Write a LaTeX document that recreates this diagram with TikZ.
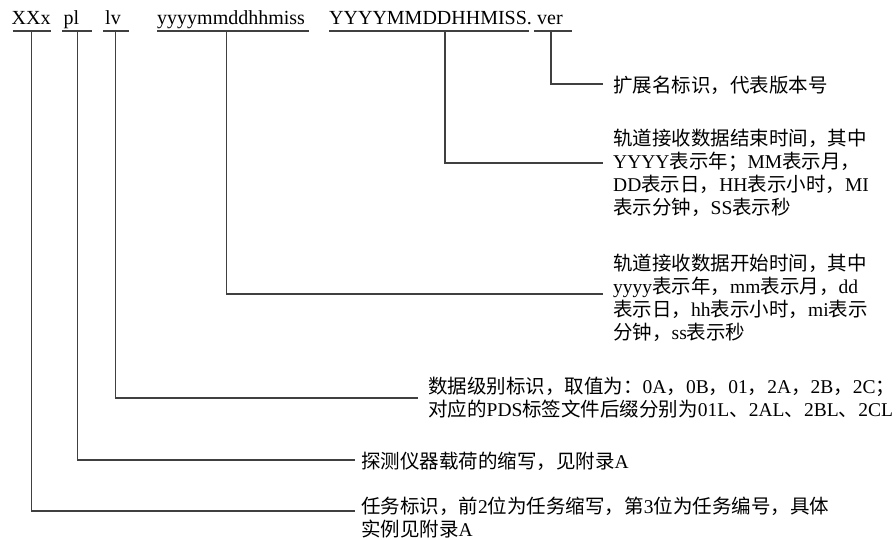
\documentclass[tikz,border=0pt]{standalone}
\usepackage{fontspec}
\setmainfont{Liberation Serif}
\newfontfamily\cjk{Noto Sans CJK SC}
\newcommand\zh[1]{{\cjk #1}}
\newcommand\blk[1]{\begin{tabular}[t]{@{}l@{}}#1\end{tabular}}
\begin{document}
\begin{tikzpicture}[x=1pt,y=-1pt,
  lbl/.style={anchor=base west, inner sep=0pt, font=\fontsize{20}{23}\selectfont},
  desc/.style={anchor=base west, inner sep=0pt, font=\fontsize{19.5}{22.5}\selectfont},
  ln/.style={line width=1.1pt, draw=black!75}]
\useasboundingbox (0,0) rectangle (896,539);

% top labels
\node[lbl] (txx) at (11.5,24.5) {XXx};
\node[lbl] (tpl) at (63.5,24.5) {pl};
\node[lbl] (tlv) at (105,24.5) {lv};
\node[lbl] (tys) at (157,24.5) {yyyymmddhhmiss};
\node[lbl] (tye) at (329,24.5) {YYYYMMDDHHMISS.};
\node[lbl] (tvr) at (537,24.5) {ver};

% underline ends
\coordinate (axx) at (12.5,31);  \coordinate (bxx) at (50.5,31);
\coordinate (apl) at (62,31);    \coordinate (bpl) at (92,31);
\coordinate (alv) at (103,31);   \coordinate (blv) at (129,31);
\coordinate (ays) at (157,31);   \coordinate (bys) at (309,31);
\coordinate (aye) at (329,31);   \coordinate (bye) at (529,31);
\coordinate (avr) at (534,31);   \coordinate (bvr) at (572,31);
\foreach \n in {xx,pl,lv,ys,ye,vr} {\draw[ln] (a\n) -- (b\n);}

% junctions and leader ends
\coordinate (jxx) at (31.5,31);  \coordinate (exx) at (355,511);
\coordinate (jpl) at (77.5,31);  \coordinate (epl) at (355,460);
\coordinate (jlv) at (115.5,31); \coordinate (elv) at (418,398);
\coordinate (jys) at (226.5,31); \coordinate (eys) at (603,294);
\coordinate (jye) at (445,31);   \coordinate (eye) at (603,163);
\coordinate (jvr) at (551,31);   \coordinate (evr) at (603,84);

% descriptions
\node[desc] (dvr) at (613,92.4) {\zh{扩展名标识，代表版本号}};
\node[desc] (dye) at (613,145.5) {\blk{\zh{轨道接收数据结束时间，其中}\\
  YYYY\zh{表示年；}MM\zh{表示月，}\\
  DD\zh{表示日，}HH\zh{表示小时，}MI\\
  \zh{表示分钟，}SS\zh{表示秒}}};
\node[desc] (dys) at (613,270) {\blk{\zh{轨道接收数据开始时间，其中}\\
  yyyy\zh{表示年，}mm\zh{表示月，}dd\\
  \zh{表示日，}hh\zh{表示小时，}mi\zh{表示}\\
  \zh{分钟，}ss\zh{表示秒}}};
\node[desc] (dlv) at (428,393.5) {\blk{\zh{数据级别标识，取值为：}0A\zh{，}0B\zh{，}01\zh{，}2A\zh{，}2B\zh{，}2C\zh{；}\\
  \zh{对应的}PDS\zh{标签文件后缀分别为}01L\zh{、}2AL\zh{、}2BL\zh{、}2CL}};
\node[desc] (dpl) at (361,468) {\zh{探测仪器载荷的缩写，见附录}A};
\node[desc] (dxx) at (361,513) {\blk{\zh{任务标识，前}2\zh{位为任务缩写，第}3\zh{位为任务编号，具体}\\
  \zh{实例见附录}A}};

% leaders
\draw[ln] (jvr) |- (evr);
\draw[ln] (jye) |- (eye);
\draw[ln] (jys) |- (eys);
\draw[ln] (jlv) |- (elv);
\draw[ln] (jpl) |- (epl);
\draw[ln] (jxx) |- (exx);
\end{tikzpicture}
\end{document}
